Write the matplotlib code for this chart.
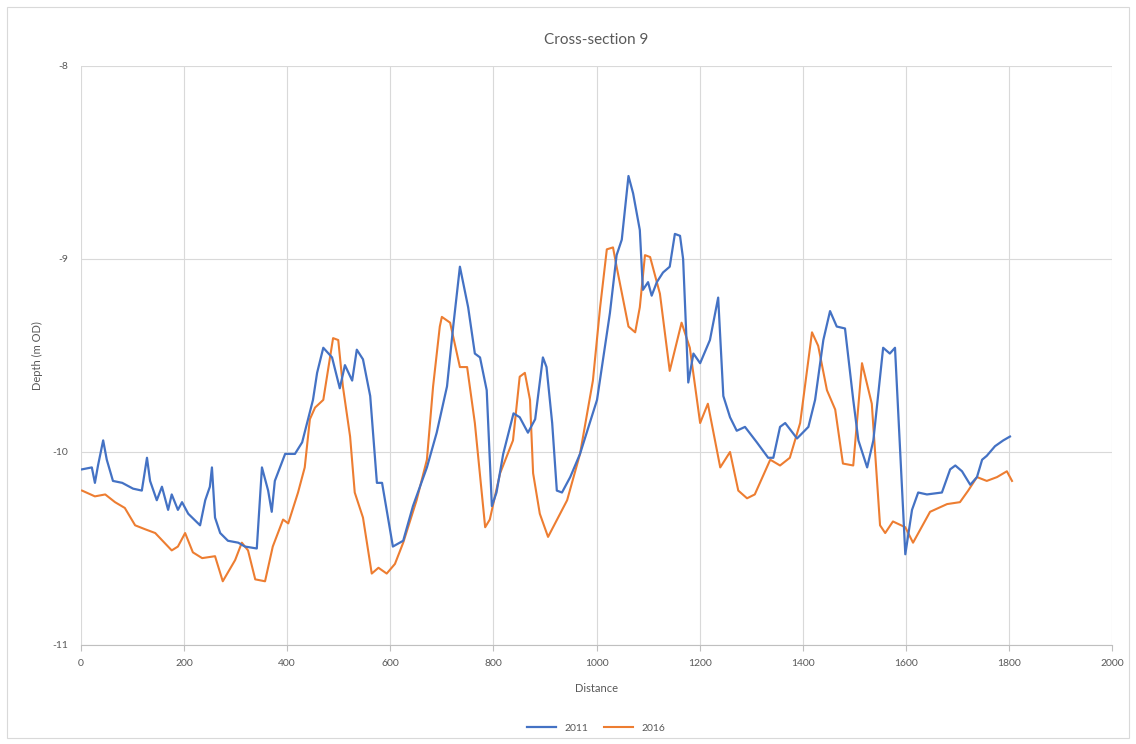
import matplotlib
matplotlib.use("Agg")
import matplotlib.pyplot as plt
from matplotlib.patches import Rectangle

plt.rcParams['font.family'] = ['Lato', 'DejaVu Sans']
plt.rcParams['axes.unicode_minus'] = False

# survey 2011
dist_2011 = [2, 21, 27, 33, 43, 50, 62, 80, 101, 118, 128, 134, 147, 157, 169, 176, 188, 196,
             208, 231, 241, 250, 254, 260, 270, 285, 305, 318, 341, 351, 363, 370, 376, 396,
             415, 429, 450, 458, 470, 487, 502, 512, 526, 535, 547, 561, 574, 584, 605, 625,
             644, 671, 690, 710, 722, 735, 751, 764, 774, 787, 797, 806, 819, 839, 851, 867,
             881, 896, 903, 914, 923, 933, 949, 968, 1001, 1026, 1039, 1049, 1062, 1071, 1084,
             1090, 1100, 1107, 1117, 1129, 1142, 1152, 1162, 1168, 1178, 1188, 1201, 1220,
             1236, 1246, 1259, 1272, 1288, 1311, 1333, 1343, 1356, 1366, 1389, 1411, 1424,
             1440, 1453, 1466, 1482, 1498, 1508, 1525, 1537, 1556, 1569, 1579, 1589, 1599,
             1612, 1624, 1641, 1670, 1686, 1696, 1709, 1725, 1738, 1748, 1757, 1773, 1789, 1802]
depth_2011 = [-10.09, -10.08, -10.16, -10.07, -9.94, -10.04, -10.15, -10.16, -10.19, -10.20,
              -10.03, -10.15, -10.25, -10.18, -10.30, -10.22, -10.30, -10.26, -10.32, -10.38,
              -10.25, -10.18, -10.08, -10.34, -10.42, -10.46, -10.47, -10.49, -10.50, -10.08,
              -10.20, -10.31, -10.15, -10.01, -10.01, -9.95, -9.73, -9.59, -9.46, -9.51, -9.67,
              -9.55, -9.63, -9.47, -9.52, -9.71, -10.16, -10.16, -10.49, -10.46, -10.28, -10.08,
              -9.90, -9.66, -9.35, -9.04, -9.25, -9.49, -9.51, -9.68, -10.28, -10.21, -10.01,
              -9.80, -9.82, -9.90, -9.83, -9.51, -9.56, -9.85, -10.20, -10.21, -10.13, -10.01,
              -9.73, -9.28, -8.98, -8.90, -8.57, -8.66, -8.85, -9.16, -9.12, -9.19, -9.12, -9.07,
              -9.04, -8.87, -8.88, -9.00, -9.64, -9.49, -9.54, -9.42, -9.20, -9.71, -9.82, -9.89,
              -9.87, -9.95, -10.03, -10.03, -9.87, -9.85, -9.93, -9.87, -9.73, -9.42, -9.27,
              -9.35, -9.36, -9.73, -9.94, -10.08, -9.94, -9.46, -9.49, -9.46, -9.99, -10.53,
              -10.30, -10.21, -10.22, -10.21, -10.09, -10.07, -10.10, -10.17, -10.13, -10.04,
              -10.02, -9.97, -9.94, -9.92]

# survey 2016
dist_2016 = [2, 27, 47, 66, 85, 105, 124, 144, 176, 188, 202, 217, 235, 260, 275, 299, 312,
             324, 338, 357, 372, 392, 402, 421, 434, 444, 454, 470, 489, 499, 508, 522, 531,
             547, 564, 577, 593, 609, 625, 651, 671, 683, 696, 700, 716, 735, 749, 764, 784,
             793, 813, 838, 851, 861, 871, 877, 890, 906, 943, 968, 993, 1007, 1020, 1032,
             1039, 1062, 1075, 1084, 1094, 1104, 1123, 1142, 1165, 1181, 1201, 1216, 1240,
             1259, 1275, 1292, 1307, 1337, 1356, 1375, 1395, 1418, 1430, 1447, 1463, 1478,
             1498, 1515, 1534, 1550, 1560, 1575, 1599, 1614, 1647, 1680, 1705, 1721, 1738,
             1757, 1777, 1796, 1806]
depth_2016 = [-10.20, -10.23, -10.22, -10.26, -10.29, -10.38, -10.40, -10.42, -10.51, -10.49,
              -10.42, -10.52, -10.55, -10.54, -10.67, -10.56, -10.47, -10.51, -10.66, -10.67,
              -10.49, -10.35, -10.37, -10.21, -10.08, -9.83, -9.77, -9.73, -9.41, -9.42, -9.66,
              -9.92, -10.21, -10.34, -10.63, -10.60, -10.63, -10.58, -10.47, -10.25, -10.04,
              -9.66, -9.35, -9.30, -9.33, -9.56, -9.56, -9.85, -10.39, -10.35, -10.11, -9.94,
              -9.61, -9.59, -9.73, -10.11, -10.32, -10.44, -10.25, -10.01, -9.63, -9.25, -8.95,
              -8.94, -9.04, -9.35, -9.38, -9.25, -8.98, -8.99, -9.18, -9.58, -9.33, -9.46,
              -9.85, -9.75, -10.08, -10.00, -10.20, -10.24, -10.22, -10.04, -10.07, -10.03,
              -9.85, -9.38, -9.45, -9.68, -9.78, -10.06, -10.07, -9.54, -9.75, -10.38, -10.42,
              -10.36, -10.39, -10.47, -10.31, -10.27, -10.26, -10.20, -10.13, -10.15, -10.13,
              -10.10, -10.15]

x_ticks = [0, 200, 400, 600, 800, 1000, 1200, 1400, 1600, 1800, 2000]
y_ticks = [-11, -10, -9, -8]

text_col = '#595959'
grid_col = '#d9d9d9'

fig = plt.figure(figsize=(11.36, 7.44), dpi=100)
fig.patches.append(Rectangle((0.006, 0.008), 0.988, 0.982, transform=fig.transFigure,
                             fill=False, edgecolor='#d9d9d9', linewidth=0.8))
ax = fig.add_axes([0.0713, 0.1331, 0.9076, 0.7782])

ax.plot(dist_2011, depth_2011, color='#4472C4', linewidth=1.6, label='2011', zorder=3)
ax.plot(dist_2016, depth_2016, color='#ED7D31', linewidth=1.5, label='2016', zorder=2)

ax.set_xlim(0, 2000)
ax.set_ylim(-11, -8)
ax.set_xticks(x_ticks)
ax.set_yticks(y_ticks)
ax.grid(True, color=grid_col, linewidth=0.8)
ax.set_axisbelow(True)
for side in ['top', 'right', 'left']:
    ax.spines[side].set_visible(False)
ax.spines['bottom'].set_color('#bfbfbf')
ax.tick_params(axis='both', colors=text_col, labelsize=7.5, length=0, pad=9)
ax.tick_params(axis='x', length=4, color='#bfbfbf', direction='out', pad=6)

ax.set_title('Cross-section 9', fontsize=11, color=text_col, pad=16)
ax.set_xlabel('Distance', fontsize=8, color=text_col, labelpad=11)
ax.set_ylabel('Depth (m OD)', fontsize=8, color=text_col, labelpad=7)

ax.legend(loc='upper center', bbox_to_anchor=(0.5, -0.12), ncol=2, frameon=False,
          fontsize=7.5, labelcolor=text_col, handlelength=2.8, columnspacing=1.5)

fig.savefig('out.png', dpi=100)
